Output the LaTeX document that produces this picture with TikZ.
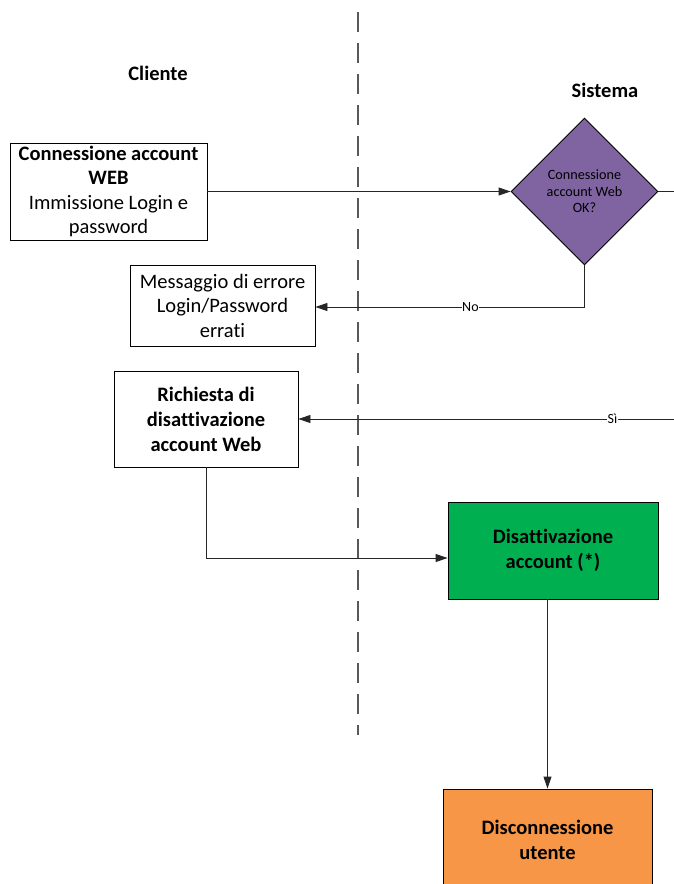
\documentclass[tikz,border=0pt]{standalone}
\usepackage{fontspec}
\setmainfont{Carlito}[Ligatures=CommonOff]
\usetikzlibrary{shapes.geometric,arrows.meta}
\definecolor{dpurple}{HTML}{8064A2}
\definecolor{dgreen}{HTML}{00B050}
\definecolor{dorange}{HTML}{F79646}
\begin{document}
\begin{tikzpicture}[x=1pt,y=-1pt,
 box/.style={draw=black,line width=0.9pt,align=center,font=\fontsize{20.5}{24.5}\selectfont,inner sep=0pt},
 bbox/.style={box,font=\bfseries\fontsize{20.5}{25}\selectfont},
 conn/.style={draw=black!85,line width=0.9pt},
 arr/.style={conn,-{Triangle[length=12pt,width=8pt]}},
 lbl/.style={fill=white,inner sep=0.5pt,font=\fontsize{14}{16}\selectfont},
 hdr/.style={font=\bfseries\fontsize{20.5}{24}\selectfont}]
\useasboundingbox (0,0) rectangle (674,884);
\clip (0,0) rectangle (674,884);
\fill[white] (0,0) rectangle (674,884);
\draw[black!65,line width=1.5pt,dash pattern=on 20pt off 11pt] (358,12) -- (358,735);
\node[hdr] (cli) at (158,73) {Cliente};
\node[hdr] (sis) at (605,90) {Sistema};
\node[box,minimum width=197pt,minimum height=97pt] (b1) at (108.5,191.5)
  {\textbf{Connessione account}\\\textbf{WEB}\\Immissione Login e\\password};
\node[draw=black,line width=0.9pt,fill=dpurple,diamond,minimum width=147pt,minimum height=147pt,
  inner sep=0pt,align=center,font=\fontsize{14.2}{16.5}\selectfont] (dia) at (584.5,191.5)
  {Connessione\\account Web\\OK?};
\node[box,minimum width=185pt,minimum height=81pt] (b2) at (222.5,305.5)
  {Messaggio di errore\\Login/Password\\errati};
\node[bbox,minimum width=184pt,minimum height=96pt] (b3) at (206,419)
  {Richiesta di\\disattivazione\\account Web};
\node[bbox,fill=dgreen,minimum width=210pt,minimum height=97pt] (gr) at (553,550.5)
  {Disattivazione\\account (*)};
\node[bbox,fill=dorange,minimum width=209pt,minimum height=101pt] (or) at (547.5,839.5)
  {Disconnessione\\utente};
\draw[arr] (b1.east) -- (dia.west);
\draw[arr] (dia.south) |- node[lbl,pos=0.712]{No} ([yshift=-1.5pt]b2.east);
\coordinate (rt) at (700,191.5);
\draw[arr] (dia.east) -- (rt) |- node[lbl,pos=0.609]{Sì} (b3.east);
\draw[arr] (b3.south) |- ([yshift=-7.5pt]gr.west);
\draw[arr] (gr.south -| or.north) -- (or.north);
\end{tikzpicture}
\end{document}
